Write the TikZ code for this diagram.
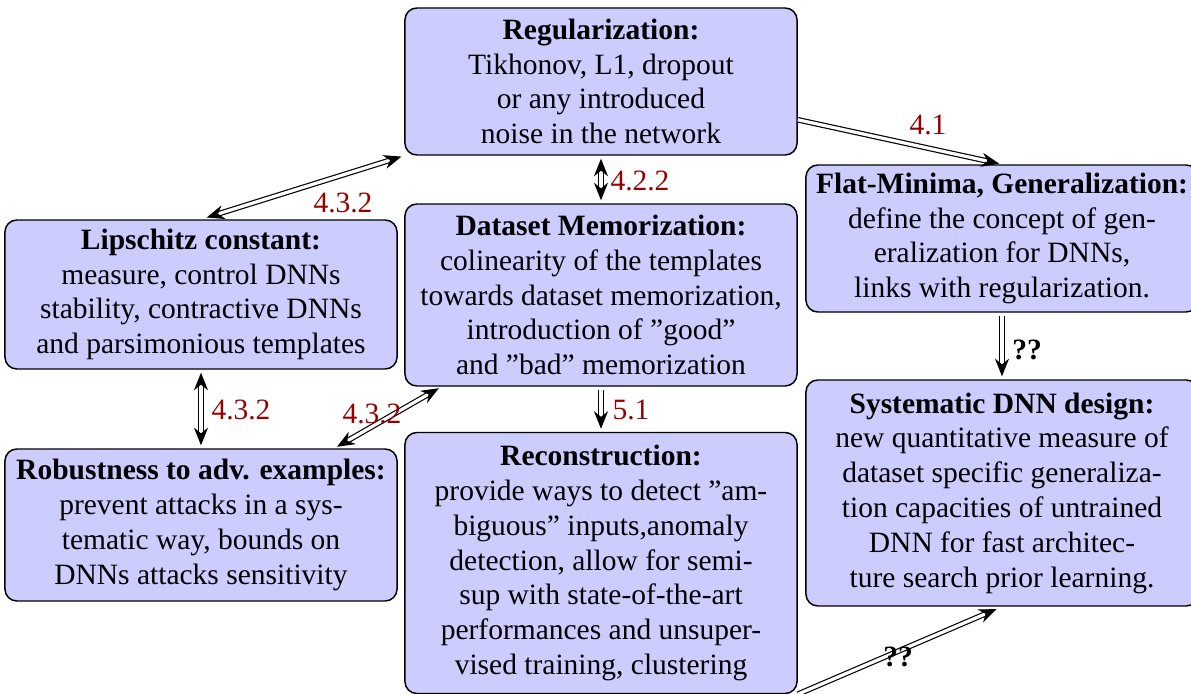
\documentclass[tikz,border=0pt]{standalone}
\usepackage{fontspec}
\setmainfont{Liberation Serif}
\usetikzlibrary{arrows.meta}
\definecolor{boxfill}{RGB}{204,204,255}
\definecolor{seclabel}{RGB}{150,0,0}
\begin{document}
\begin{tikzpicture}[x=0.339pt,y=-0.339pt,
  topic/.style={draw=black, line width=0.5pt, fill=boxfill, rounded corners=4pt,
    align=center, inner sep=1pt, minimum width=132.9pt,
    font=\fontsize{10pt}{11.8pt}\selectfont},
  link/.style={double, double distance=1.1pt, line width=0.4pt},
  tip/.style={Stealth[length=6pt,width=4.8pt]},
  both/.style={link, {Stealth[length=6pt,width=4.8pt]}-{Stealth[length=6pt,width=4.8pt]}},
  fwd/.style={link, -{Stealth[length=6pt,width=4.8pt]}},
  sec/.style={text=seclabel, font=\fontsize{10pt}{12pt}\selectfont, inner sep=1pt},
  open/.style={font=\fontsize{10pt}{12pt}\selectfont\bfseries, inner sep=1pt}]
\useasboundingbox (0,0) rectangle (1191,694);

\node[topic, minimum height=147*0.339pt] (reg) at (601,81.5)
  {\textbf{Regularization:}\\ Tikhonov, L1, dropout\\ or any introduced\\ noise in the network};
\node[topic, minimum height=147*0.339pt] (flat) at (1002,238.5)
  {\textbf{Flat-Minima, Generalization:}\\ define the concept of gen-\\ eralization for DNNs,\\ links with regularization.};
\node[topic, minimum height=226*0.339pt] (sys) at (1002,493)
  {\textbf{Systematic DNN design:}\\ new quantitative measure of\\ dataset specific generaliza-\\ tion capacities of untrained\\ DNN for fast architec-\\ ture search prior learning.};
\node[topic, minimum height=149*0.339pt] (lip) at (201,294.5)
  {\textbf{Lipschitz constant:}\\ measure, control DNNs\\ stability, contractive DNNs\\ and parsimonious templates};
\node[topic, minimum height=182*0.339pt] (mem) at (601,295)
  {\textbf{Dataset Memorization:}\\ colinearity of the templates\\ towards dataset memorization,\\ introduction of ”good”\\ and ”bad” memorization};
\node[topic, minimum height=152*0.339pt] (rob) at (201,525)
  {\textbf{Robustness to adv. examples:}\\ prevent attacks in a sys-\\ tematic way, bounds on\\ DNNs attacks sensitivity};
\node[topic, minimum height=261*0.339pt] (rec) at (601,563)
  {\textbf{Reconstruction:}\\ provide ways to detect ”am-\\ biguous” inputs,anomaly\\ detection, allow for semi-\\ sup with state-of-the-art\\ performances and unsuper-\\ vised training, clustering};

% connections between topics
\draw[both, shorten <=1pt, shorten >=2pt] (reg.south west) -- (lip.north);
\draw[both, shorten <=1pt, shorten >=1pt] (reg.south) -- (mem.north);
\draw[fwd, shorten >=1pt] (reg.-11) -- (flat.north);
\draw[both, shorten <=1pt, shorten >=1pt] (lip.south) -- (rob.north);
\draw[both, shorten <=1pt, shorten >=1pt] (mem) -- (rob);
\draw[fwd, shorten <=1pt, shorten >=1pt] (mem.south) -- (rec.north);
\draw[fwd, shorten <=1pt, shorten >=1pt] (flat.south) -- (sys.north);
\draw[fwd, shorten >=2pt] (rec.south east) -- (sys.south);

% section labels
\node[sec] (l1) at (343,203) {4.3.2};
\node[sec] (l2) at (640,181) {4.2.2};
\node[sec] (l3) at (928,125) {4.1};
\node[sec] (l4) at (241,410) {4.3.2};
\node[sec] (l5) at (372,414) {4.3.2};
\node[sec] (l6) at (631,410) {5.1};
\node[open] (q1) at (1027,350) {??};
\node[open] (q2) at (898,657) {??};
\end{tikzpicture}
\end{document}
